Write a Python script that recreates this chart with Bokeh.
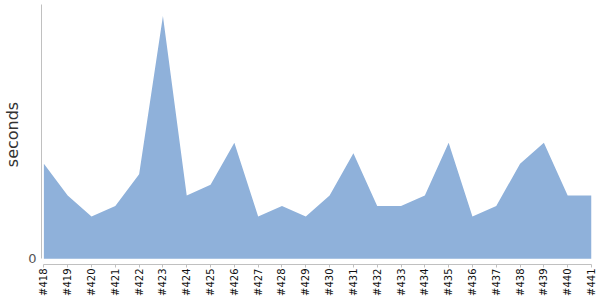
from bokeh.plotting import figure
from bokeh.models import Range1d, FixedTicker, ColumnDataSource
from bokeh.embed import file_html
from bokeh.resources import INLINE
import math

builds = list(range(418, 442))
tick_labels = ["#%d" % b for b in builds]
seconds = [9, 6, 4, 5, 8, 23, 6, 7, 11, 4, 5, 4, 6, 10, 5, 5, 6, 11, 4, 5, 9, 11, 6, 6]

src = ColumnDataSource(data=dict(x=builds, y=seconds, base=[0] * len(builds)))

p = figure(width=600, height=300, output_backend="svg", toolbar_location=None,
           x_range=Range1d(417.9, 441), y_range=Range1d(-0.55, 24.1),
           min_border_left=40, min_border_right=9, min_border_top=4, min_border_bottom=36)
p.outline_line_color = None
p.grid.visible = False
p.background_fill_color = "white"

p.varea(x="x", y1="base", y2="y", source=src, fill_color="#8fb1da", fill_alpha=1.0)

xa = p.xaxis[0]
xa.ticker = FixedTicker(ticks=builds)
xa.major_label_overrides = {b: t for b, t in zip(builds, tick_labels)}
xa.major_label_orientation = math.pi / 2
xa.bounds = (418, 441)
xa.axis_line_color = "#c0c0c0"
xa.major_tick_line_color = "#c0c0c0"
xa.major_tick_in = 0
xa.major_tick_out = 3
xa.minor_tick_line_color = None
xa.major_label_text_font = "DejaVu Sans"
xa.major_label_text_font_size = "10px"
xa.major_label_text_color = "#111111"
xa.major_label_standoff = 1

ya = p.yaxis[0]
ya.ticker = FixedTicker(ticks=[0])
ya.bounds = (0, 24.1)
ya.axis_line_color = "#c0c0c0"
ya.major_tick_line_color = None
ya.minor_tick_line_color = None
ya.major_tick_in = 0
ya.major_tick_out = 0
ya.major_label_text_font = "DejaVu Sans"
ya.major_label_text_font_size = "13px"
ya.major_label_text_color = "#555555"
ya.major_label_standoff = 5
ya.axis_label = "seconds"
ya.axis_label_text_font = "DejaVu Sans"
ya.axis_label_text_font_size = "16px"
ya.axis_label_text_font_style = "normal"
ya.axis_label_text_color = "#333333"
ya.axis_label_standoff = 3

open("out.html", "w").write(file_html(p, INLINE))
